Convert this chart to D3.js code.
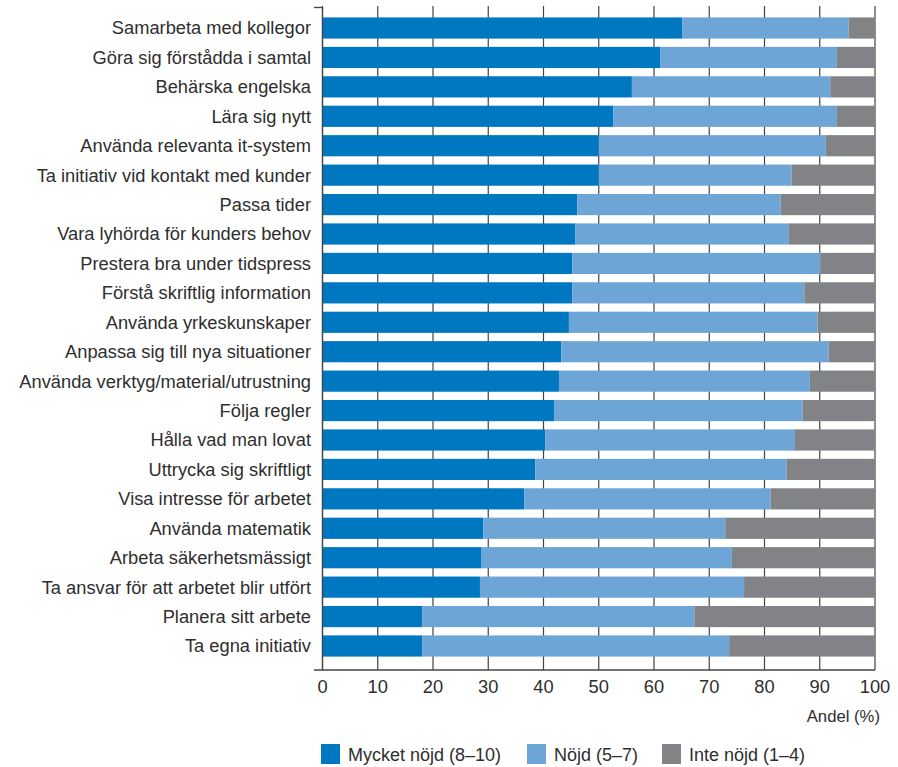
<!DOCTYPE html>
<html>
<head>
<meta charset="utf-8">
<script src="https://cdn.jsdelivr.net/npm/d3@7"></script>
<style>
  html, body { margin: 0; padding: 0; background: #fff; }
  svg { display: block; font-family: "Liberation Sans", Arial, sans-serif; }
</style>
</head>
<body>
<svg id="chart" width="898" height="767"></svg>
<script>
const categories = [
  "Samarbeta med kollegor",
  "Göra sig förstådda i samtal",
  "Behärska engelska",
  "Lära sig nytt",
  "Använda relevanta it-system",
  "Ta initiativ vid kontakt med kunder",
  "Passa tider",
  "Vara lyhörda för kunders behov",
  "Prestera bra under tidspress",
  "Förstå skriftlig information",
  "Använda yrkeskunskaper",
  "Anpassa sig till nya situationer",
  "Använda verktyg/material/utrustning",
  "Följa regler",
  "Hålla vad man lovat",
  "Uttrycka sig skriftligt",
  "Visa intresse för arbetet",
  "Använda matematik",
  "Arbeta säkerhetsmässigt",
  "Ta ansvar för att arbetet blir utfört",
  "Planera sitt arbete",
  "Ta egna initiativ"
];
const mycketNojd = [65.1, 61.1, 56.0, 52.6, 50.0, 50.0, 46.1, 45.8, 45.2, 45.2, 44.6, 43.2, 42.8, 42.0, 40.3, 38.5, 36.5, 29.1, 28.8, 28.5, 18.1, 18.1];
const nojd       = [30.1, 32.0, 35.9, 40.5, 41.1, 34.9, 36.8, 38.6, 44.9, 42.0, 45.0, 48.4, 45.4, 44.9, 45.2, 45.5, 44.6, 43.8, 45.3, 47.8, 49.2, 55.5];
const inteNojd   = [4.8, 6.9, 8.1, 6.9, 8.9, 15.1, 17.1, 15.6, 9.9, 12.8, 10.4, 8.4, 11.8, 13.1, 14.5, 16.0, 18.9, 27.1, 25.9, 23.7, 32.7, 26.4];
const seriesNames = ["Mycket nöjd (8–10)", "Nöjd (5–7)", "Inte nöjd (1–4)"];
const seriesKeys = ["mycket", "nojd", "inte"];
const colors = ["#0077c1", "#6ea5d7", "#828387"];
const xTicks = [0, 10, 20, 30, 40, 50, 60, 70, 80, 90, 100];
const xTitle = "Andel (%)";

const rows = categories.map((c, i) => ({ cat: c, mycket: mycketNojd[i], nojd: nojd[i], inte: inteNojd[i] }));

const svg = d3.select("#chart");
const x = d3.scaleLinear().domain([0, 100]).range([322.5, 875]);
const y = d3.scaleBand().domain(categories).range([13.3, 660.7]).paddingInner(0.28).paddingOuter(0.14);

const axisTop = 7, axisBottom = 670;
const textColor = "#2e2e2e";
const gridColor = "#444444";

// gridlines
svg.append("g").selectAll("line").data(xTicks).join("line")
  .attr("x1", d => x(d)).attr("x2", d => x(d))
  .attr("y1", 6).attr("y2", axisBottom)
  .attr("stroke", gridColor).attr("stroke-width", 1.2);

// stacked bars
const stack = d3.stack().keys(seriesKeys)(rows);
svg.append("g").selectAll("g").data(stack).join("g")
  .attr("fill", (d, i) => colors[i])
  .selectAll("rect").data(d => d).join("rect")
  .attr("x", d => x(d[0]))
  .attr("width", d => x(d[1]) - x(d[0]))
  .attr("y", d => y(d.data.cat))
  .attr("height", y.bandwidth());

// y axis line with end ticks
const yAxis = svg.append("g").attr("stroke", gridColor).attr("stroke-width", 1.3);
yAxis.append("line").attr("x1", x(0)).attr("x2", x(0)).attr("y1", axisTop).attr("y2", axisBottom);
yAxis.append("line").attr("x1", 314).attr("x2", x(0)).attr("y1", axisTop + 0.5).attr("y2", axisTop + 0.5);
// x axis line
yAxis.append("line").attr("x1", 314).attr("x2", x(100)).attr("y1", axisBottom).attr("y2", axisBottom);

// category labels
svg.append("g").selectAll("text").data(categories).join("text")
  .attr("x", 311)
  .attr("y", d => y(d) + y.bandwidth() / 2)
  .attr("dy", "0.35em")
  .attr("text-anchor", "end")
  .attr("font-size", 18.3)
  .attr("fill", textColor)
  .text(d => d);

// x tick labels
svg.append("g").selectAll("text").data(xTicks).join("text")
  .attr("x", d => x(d))
  .attr("y", 693)
  .attr("text-anchor", "middle")
  .attr("font-size", 18.3)
  .attr("fill", textColor)
  .text(d => d);

svg.append("text")
  .attr("x", 880).attr("y", 722)
  .attr("text-anchor", "end")
  .attr("font-size", 16.7)
  .attr("fill", textColor)
  .text(xTitle);

// legend
const legendX = [321, 527, 662];
const lg = svg.append("g");
seriesNames.forEach((name, i) => {
  lg.append("rect").attr("x", legendX[i]).attr("y", 744).attr("width", 19).attr("height", 20).attr("fill", colors[i]);
  lg.append("text").attr("x", legendX[i] + 27).attr("y", 760.5)
    .attr("font-size", 18).attr("fill", textColor).text(name);
});
</script>
</body>
</html>
